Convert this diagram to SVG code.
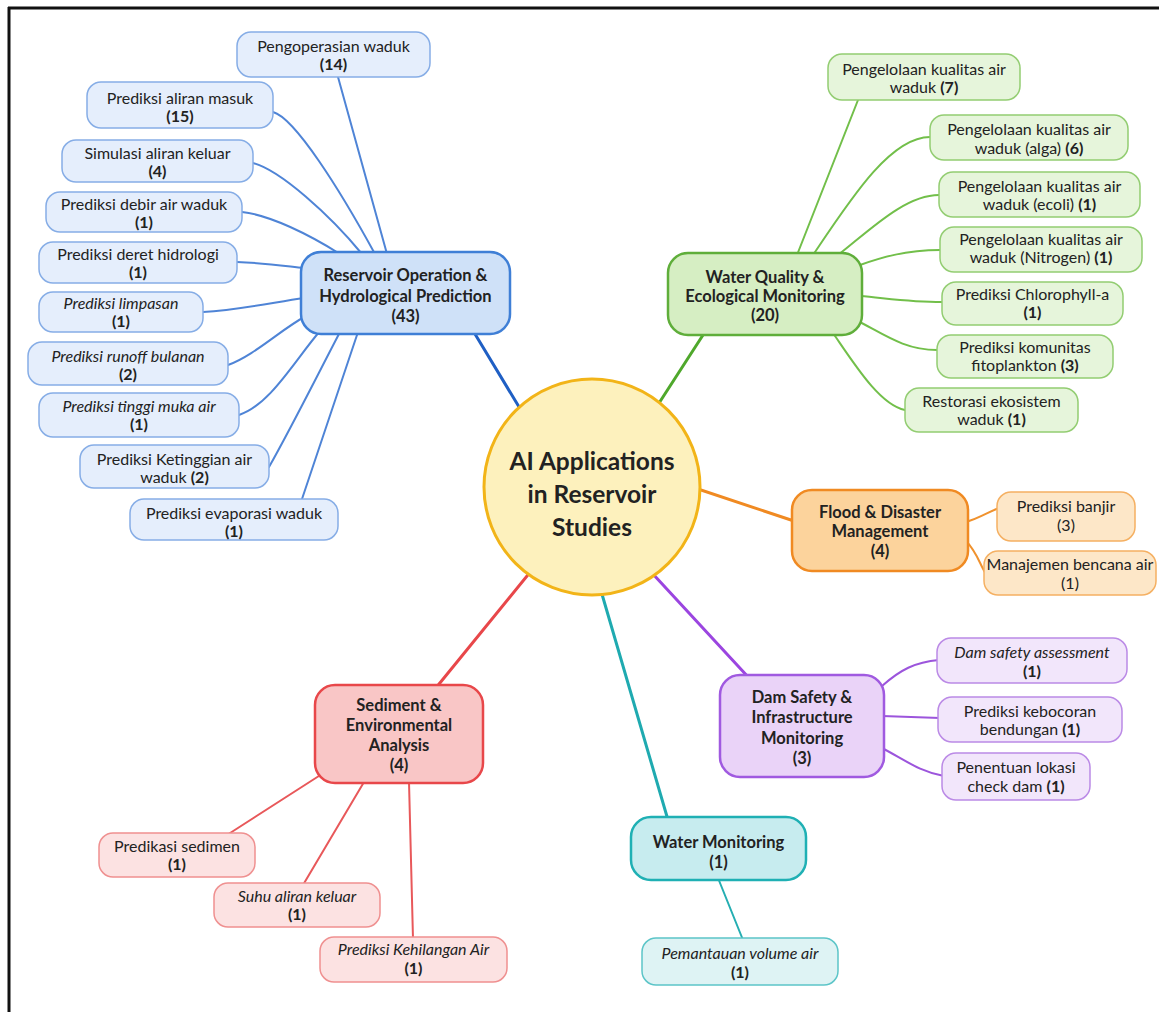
<svg xmlns="http://www.w3.org/2000/svg" width="1159" height="1012" viewBox="0 0 1159 1012">
<style>
text{font-family:Lato,"Open Sans","Liberation Sans",sans-serif;fill:#222;text-anchor:middle}
.lf{font-size:16px}
.mn{font-size:16.5px;font-weight:bold}
.ct{font-size:24.5px;font-weight:bold}
.b{font-weight:bold}
.i{font-style:italic}
.c path,.c line{fill:none;stroke-linecap:round}
.cb{stroke:#4f84d6;stroke-width:2}
.cg{stroke:#72bf4a;stroke-width:2}
.co{stroke:#f0922e;stroke-width:2}
.cp{stroke:#9c55dc;stroke-width:2}
.cc{stroke:#25aeb2;stroke-width:2}
.cr{stroke:#e8585a;stroke-width:2}
.lb{fill:#e5eefc;stroke:#86ade6;stroke-width:1.5}
.lg{fill:#e6f5db;stroke:#93cd72;stroke-width:1.5}
.lo{fill:#fde7c8;stroke:#f5b062;stroke-width:1.5}
.lp{fill:#f2e6fb;stroke:#bb8ae6;stroke-width:1.5}
.lc{fill:#def3f4;stroke:#5cc5c8;stroke-width:1.5}
.lr{fill:#fce2e2;stroke:#ef9090;stroke-width:1.5}
.mb{fill:#cfe1f8;stroke:#3f7fd6;stroke-width:2.5}
.mg{fill:#d6eec3;stroke:#5fae3a;stroke-width:2.5}
.mo{fill:#fcd39c;stroke:#f08a22;stroke-width:2.5}
.mp{fill:#ead3f8;stroke:#a05ae0;stroke-width:2.5}
.mc{fill:#c7ecef;stroke:#1fb0b4;stroke-width:2.5}
.mr{fill:#f9c6c6;stroke:#e8474a;stroke-width:2.5}
</style>
<rect x="0" y="0" width="1159" height="1012" fill="#fff"/>
<line x1="8" y1="8" x2="1159" y2="8" stroke="#111" stroke-width="3"/>
<line x1="9" y1="7" x2="9" y2="1012" stroke="#111" stroke-width="3"/>

<g id="connectors" class="c">
  <line x1="475" y1="334" x2="545" y2="450" stroke="#1f5fc4" stroke-width="3"/>
  <line x1="703" y1="335" x2="630" y2="448" stroke="#4fa82c" stroke-width="3"/>
  <line x1="680" y1="483" x2="800" y2="523" stroke="#f08a22" stroke-width="3"/>
  <line x1="640" y1="560" x2="750" y2="679" stroke="#9b45e0" stroke-width="3"/>
  <line x1="592" y1="560" x2="668" y2="820" stroke="#1faab0" stroke-width="3"/>
  <line x1="540" y1="560" x2="435" y2="689" stroke="#e8474a" stroke-width="3"/>

  <path class="cb" d="M338,77 L387,254"/>
  <path class="cb" d="M273,112 C295,118 340,190 375,254"/>
  <path class="cb" d="M253,163 C280,170 330,215 362,254"/>
  <path class="cb" d="M242,212 C270,215 310,235 340,254"/>
  <path class="cb" d="M237,262 C265,263 285,266 304,268"/>
  <path class="cb" d="M203,312 C240,310 275,302 304,298"/>
  <path class="cb" d="M228,365 C255,355 280,330 306,316"/>
  <path class="cb" d="M239,415 C270,405 295,360 320,331"/>
  <path class="cb" d="M269,467 C290,430 315,380 340,332"/>
  <path class="cb" d="M302,499 L358,332"/>

  <path class="cg" d="M858,100 L797,255"/>
  <path class="cg" d="M930,137 C890,137 850,200 813,255"/>
  <path class="cg" d="M939,195 C905,195 870,230 838,255"/>
  <path class="cg" d="M940,250 C905,250 880,258 860,265"/>
  <path class="cg" d="M942,302 C910,302 885,298 860,296"/>
  <path class="cg" d="M937,350 C905,350 885,335 858,321"/>
  <path class="cg" d="M905,410 C880,405 855,365 833,333"/>

  <path class="co" d="M966,522 C980,518 988,512 999,508"/>
  <path class="co" d="M966,541 C977,552 980,565 986,574"/>

  <path class="cp" d="M882,686 C900,670 915,662 939,660"/>
  <path class="cp" d="M882,716 L940,718"/>
  <path class="cp" d="M882,748 C905,760 920,772 944,776"/>

  <path class="cc" d="M718,878 L743,940"/>

  <path class="cr" d="M227,835 L322,774"/>
  <path class="cr" d="M303,885 L364,782"/>
  <path class="cr" d="M413,939 L409,782"/>
</g>

<g id="center">
  <circle cx="592" cy="487" r="108" fill="#fdf1bd" stroke="#f2b418" stroke-width="3"/>
  <text class="ct" x="592" y="470">AI Applications</text>
  <text class="ct" x="592" y="503">in Reservoir</text>
  <text class="ct" x="592" y="536">Studies</text>
</g>

<g id="reservoir-operation">
  <rect class="mb" x="301" y="252" width="209" height="82" rx="20"/>
  <text class="mn" x="405.5" y="281">Reservoir Operation &amp;</text>
  <text class="mn" x="405.5" y="302">Hydrological Prediction</text>
  <text class="mn" x="405.5" y="322">(43)</text>
</g>
<g id="water-quality">
  <rect class="mg" x="668" y="253" width="194" height="82" rx="20"/>
  <text class="mn" x="765" y="283">Water Quality &amp;</text>
  <text class="mn" x="765" y="302">Ecological Monitoring</text>
  <text class="mn" x="765" y="321">(20)</text>
</g>
<g id="flood">
  <rect class="mo" x="792" y="490" width="176" height="81" rx="20"/>
  <text class="mn" x="880" y="518">Flood &amp; Disaster</text>
  <text class="mn" x="880" y="537">Management</text>
  <text class="mn" x="880" y="557">(4)</text>
</g>
<g id="dam-safety">
  <rect class="mp" x="720" y="675" width="164" height="102" rx="20"/>
  <text class="mn" x="802" y="703">Dam Safety &amp;</text>
  <text class="mn" x="802" y="723">Infrastructure</text>
  <text class="mn" x="802" y="744">Monitoring</text>
  <text class="mn" x="802" y="764">(3)</text>
</g>
<g id="water-monitoring">
  <rect class="mc" x="631" y="817" width="175" height="63" rx="20"/>
  <text class="mn" x="718.5" y="848">Water Monitoring</text>
  <text class="mn" x="718.5" y="868">(1)</text>
</g>
<g id="sediment">
  <rect class="mr" x="315" y="685" width="168" height="98" rx="20"/>
  <text class="mn" x="399" y="711">Sediment &amp;</text>
  <text class="mn" x="399" y="731">Environmental</text>
  <text class="mn" x="399" y="751">Analysis</text>
  <text class="mn" x="399" y="771">(4)</text>
</g>

<g id="b1"><rect class="lb" x="237" y="32" width="193" height="45" rx="14"/><text class="lf" x="333.5" y="52">Pengoperasian waduk</text><text class="lf b" x="333.5" y="70">(14)</text></g>
<g id="b2"><rect class="lb" x="87" y="82" width="186" height="46" rx="14"/><text class="lf" x="180" y="104">Prediksi aliran masuk</text><text class="lf b" x="180" y="122">(15)</text></g>
<g id="b3"><rect class="lb" x="62" y="140" width="191" height="42" rx="14"/><text class="lf" x="157.5" y="159">Simulasi aliran keluar</text><text class="lf b" x="157.5" y="177">(4)</text></g>
<g id="b4"><rect class="lb" x="46" y="192" width="196" height="40" rx="14"/><text class="lf" x="144" y="210">Prediksi debir air waduk</text><text class="lf b" x="144" y="228">(1)</text></g>
<g id="b5"><rect class="lb" x="39" y="242" width="198" height="41" rx="14"/><text class="lf" x="138" y="260">Prediksi deret hidrologi</text><text class="lf b" x="138" y="278">(1)</text></g>
<g id="b6"><rect class="lb" x="39" y="292" width="164" height="40" rx="14"/><text class="lf i" x="121" y="309">Prediksi limpasan</text><text class="lf b" x="121" y="327">(1)</text></g>
<g id="b7"><rect class="lb" x="28" y="342" width="200" height="43" rx="14"/><text class="lf i" x="128" y="362">Prediksi runoff bulanan</text><text class="lf b" x="128" y="380">(2)</text></g>
<g id="b8"><rect class="lb" x="39" y="393" width="200" height="44" rx="14"/><text class="lf i" x="139" y="412">Prediksi tinggi muka air</text><text class="lf b" x="139" y="430">(1)</text></g>
<g id="b9"><rect class="lb" x="80" y="445" width="189" height="43" rx="14"/><text class="lf" x="174.5" y="465">Prediksi Ketinggian air</text><text class="lf" x="174.5" y="483">waduk  <tspan class="b">(2)</tspan></text></g>
<g id="b10"><rect class="lb" x="130" y="499" width="208" height="41" rx="14"/><text class="lf" x="234" y="519">Prediksi evaporasi waduk</text><text class="lf b" x="234" y="537">(1)</text></g>

<g id="g1"><rect class="lg" x="828" y="54" width="192" height="46" rx="14"/><text class="lf" x="924" y="75">Pengelolaan kualitas air</text><text class="lf" x="924" y="93">waduk <tspan class="b">(7)</tspan></text></g>
<g id="g2"><rect class="lg" x="930" y="115" width="198" height="45" rx="14"/><text class="lf" x="1029" y="135">Pengelolaan kualitas air</text><text class="lf" x="1029" y="154">waduk (alga) <tspan class="b">(6)</tspan></text></g>
<g id="g3"><rect class="lg" x="939" y="172" width="201" height="45" rx="14"/><text class="lf" x="1039.5" y="192">Pengelolaan kualitas air</text><text class="lf" x="1039.5" y="210">waduk (ecoli) <tspan class="b">(1)</tspan></text></g>
<g id="g4"><rect class="lg" x="940" y="227" width="202" height="45" rx="14"/><text class="lf" x="1041" y="245">Pengelolaan kualitas air</text><text class="lf" x="1041" y="263">waduk (Nitrogen) <tspan class="b">(1)</tspan></text></g>
<g id="g5"><rect class="lg" x="942" y="282" width="181" height="43" rx="14"/><text class="lf" x="1032.5" y="300">Prediksi Chlorophyll-a</text><text class="lf b" x="1032.5" y="318">(1)</text></g>
<g id="g6"><rect class="lg" x="937" y="335" width="176" height="43" rx="14"/><text class="lf" x="1025" y="353">Prediksi komunitas</text><text class="lf" x="1025" y="371">fitoplankton <tspan class="b">(3)</tspan></text></g>
<g id="g7"><rect class="lg" x="905" y="388" width="173" height="44" rx="14"/><text class="lf" x="991.5" y="407">Restorasi ekosistem</text><text class="lf" x="991.5" y="425">waduk <tspan class="b">(1)</tspan></text></g>

<g id="o1"><rect class="lo" x="997" y="492" width="138" height="49" rx="14"/><text class="lf" x="1066" y="512">Prediksi banjir</text><text class="lf" x="1066" y="531">(3)</text></g>
<g id="o2"><rect class="lo" x="984" y="551" width="172" height="44" rx="14"/><text class="lf" x="1070" y="570" font-size="14.5">Manajemen bencana air</text><text class="lf" x="1070" y="589">(1)</text></g>

<g id="p1"><rect class="lp" x="937" y="638" width="190" height="45" rx="14"/><text class="lf i" x="1032" y="658">Dam safety assessment</text><text class="lf b" x="1032" y="677">(1)</text></g>
<g id="p2"><rect class="lp" x="938" y="697" width="184" height="45" rx="14"/><text class="lf" x="1030" y="717">Prediksi kebocoran</text><text class="lf" x="1030" y="735">bendungan <tspan class="b">(1)</tspan></text></g>
<g id="p3"><rect class="lp" x="942" y="753" width="148" height="47" rx="14"/><text class="lf" x="1016" y="773">Penentuan lokasi</text><text class="lf" x="1016" y="792">check dam <tspan class="b">(1)</tspan></text></g>

<g id="c1"><rect class="lc" x="642" y="938" width="196" height="47" rx="14"/><text class="lf i" x="740" y="959">Pemantauan volume air</text><text class="lf b" x="740" y="978">(1)</text></g>

<g id="r1"><rect class="lr" x="99" y="833" width="156" height="44" rx="14"/><text class="lf" x="177" y="852">Predikasi sedimen</text><text class="lf b" x="177" y="870">(1)</text></g>
<g id="r2"><rect class="lr" x="214" y="883" width="166" height="44" rx="14"/><text class="lf i" x="297" y="902">Suhu aliran keluar</text><text class="lf b" x="297" y="920">(1)</text></g>
<g id="r3"><rect class="lr" x="320" y="937" width="187" height="45" rx="14"/><text class="lf i" x="413.5" y="955">Prediksi Kehilangan Air</text><text class="lf b" x="413.5" y="974">(1)</text></g>
</svg>
